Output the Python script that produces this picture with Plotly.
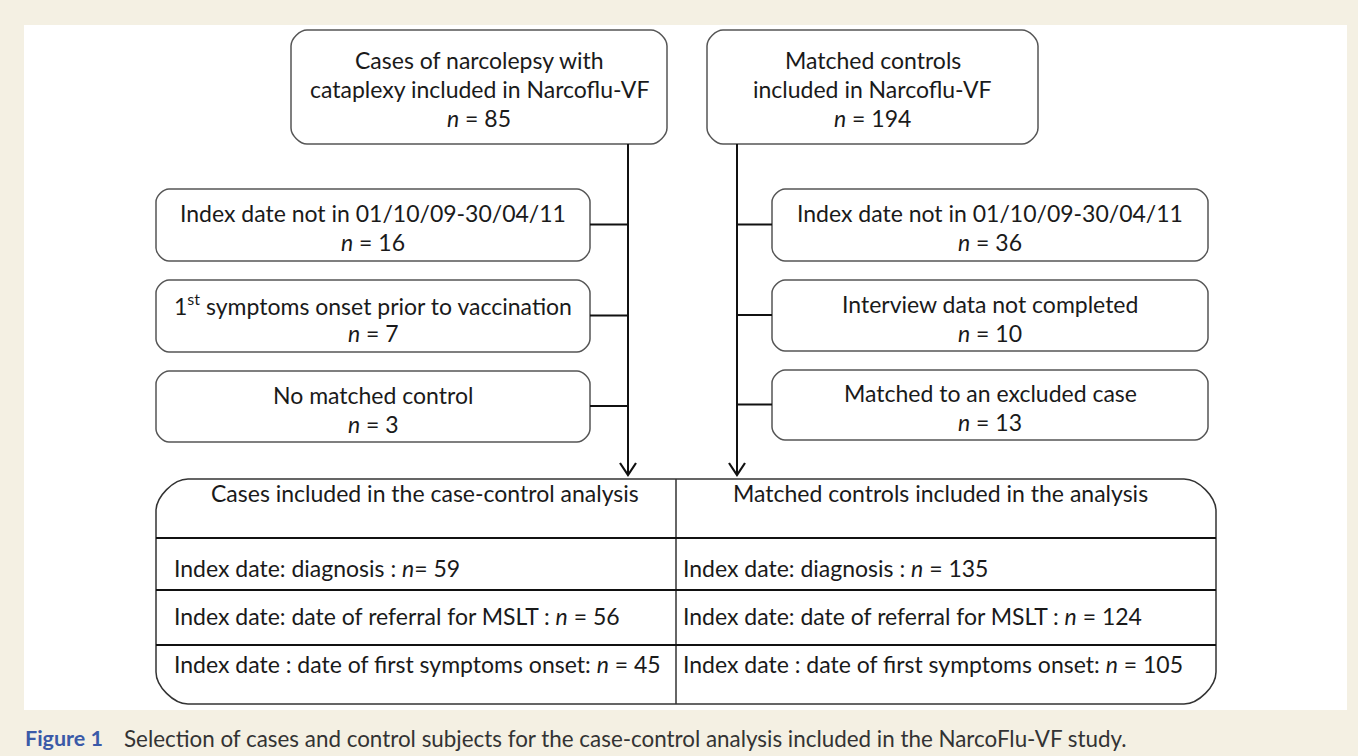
import plotly.graph_objects as go

W, H = 1358, 756

# ---- data ----
top_labels = ["Cases of narcolepsy with<br>cataplexy included in Narcoflu-VF",
              "Matched controls<br>included in Narcoflu-VF"]
top_n = [85, 194]

case_excl_labels = ["Index date not in 01/10/09-30/04/11",
                    "1<sup>st</sup> symptoms onset prior to vaccination",
                    "No matched control"]
case_excl_n = [16, 7, 3]

ctrl_excl_labels = ["Index date not in 01/10/09-30/04/11",
                    "Interview data not completed",
                    "Matched to an excluded case"]
ctrl_excl_n = [36, 10, 13]

table_headers = ["Cases included in the case-control analysis",
                 "Matched controls included in the analysis"]
row_labels_cases = ["Index date: diagnosis : <i>n</i>= ",
                    "Index date: date of referral for MSLT : <i>n</i> = ",
                    "Index date : date of first symptoms onset: <i>n</i> = "]
cases_n = [59, 56, 45]
row_labels_ctrl = ["Index date: diagnosis : <i>n</i> = ",
                   "Index date: date of referral for MSLT : <i>n</i> = ",
                   "Index date : date of first symptoms onset: <i>n</i> = "]
ctrl_n = [135, 124, 105]

caption_bold = "Figure 1"
caption_text = "Selection of cases and control subjects for the case-control analysis included in the NarcoFlu-VF study."

# ---- geometry / style ----
FONT = "Lato"
TXT = "#1a1a1a"
BOX_LINE = "#555555"
LINE = "#111111"
FS = 23


def rrect(x0, y0, x1, y1, r):
    k = 0.45 * r
    return (f"M {x0+r},{y0} L {x1-r},{y0} C {x1-r+k},{y0} {x1},{y0+r-k} {x1},{y0+r} "
            f"L {x1},{y1-r} C {x1},{y1-r+k} {x1-r+k},{y1} {x1-r},{y1} "
            f"L {x0+r},{y1} C {x0+r-k},{y1} {x0},{y1-r+k} {x0},{y1-r} "
            f"L {x0},{y0+r} C {x0},{y0+r-k} {x0+r-k},{y0} {x0+r},{y0} Z")


shapes = []
annotations = []

# background panel
shapes.append(dict(type="rect", x0=24, y0=25, x1=1347, y1=710,
                   fillcolor="white", line=dict(width=0), layer="below"))


def box(x0, y0, x1, y1, r=14):
    shapes.append(dict(type="path", path=rrect(x0, y0, x1, y1, r),
                       line=dict(color=BOX_LINE, width=1.5), fillcolor="white"))


def text(x, y, s, size=FS, xanchor="center", color=TXT):
    annotations.append(dict(x=x, y=y, text=s, showarrow=False, xanchor=xanchor,
                            yanchor="middle", font=dict(family=FONT, size=size, color=color)))


def line(x0, y0, x1, y1, w=2, c=LINE):
    shapes.append(dict(type="line", x0=x0, y0=y0, x1=x1, y1=y1,
                       line=dict(color=c, width=w)))


# top boxes
top_boxes = [(291, 30, 667, 144), (707, 30, 1038, 144)]
for (x0, y0, x1, y1), lab, n in zip(top_boxes, top_labels, top_n):
    box(x0, y0, x1, y1, 16)
    cx = (x0 + x1) / 2
    l1, l2 = lab.split("<br>")
    text(cx, 60, l1)
    text(cx, 89, l2)
    text(cx, 118, f"<i>n</i> = {n}")

# vertical flow lines with arrows
for vx in (628, 737):
    line(vx, 144, vx, 474, w=2)
    shapes.append(dict(type="path", path=f"M {vx-8},{463} L {vx},{475} L {vx+8},{463}",
                       line=dict(color=LINE, width=2.2)))

# exclusion boxes
left_y = [(189, 261), (280, 352), (371, 442)]
right_y = [(189, 261), (280, 351), (370, 440)]
for (y0, y1), lab, n in zip(left_y, case_excl_labels, case_excl_n):
    box(156, y0, 590, y1, 13)
    cy = (y0 + y1) / 2
    text(373, cy - 12, lab)
    text(373, cy + 17, f"<i>n</i> = {n}")
    line(590, cy - 0.5, 628, cy - 0.5, w=2)
for (y0, y1), lab, n in zip(right_y, ctrl_excl_labels, ctrl_excl_n):
    box(772, y0, 1208, y1, 13)
    cy = (y0 + y1) / 2
    text(990, cy - 12, lab)
    text(990, cy + 17, f"<i>n</i> = {n}")
    line(737, cy - 0.5, 772, cy - 0.5, w=2)

# bottom table
tx0, ty0, tx1, ty1 = 156, 479, 1216, 704
shapes.append(dict(type="path", path=rrect(tx0, ty0, tx1, ty1, 32),
                   line=dict(color="#333333", width=1.5), fillcolor="rgba(0,0,0,0)"))
line(676, ty0, 676, ty1, w=1.5, c="#333333")
for ry in (538, 590, 645):
    line(tx0, ry, tx1, ry, w=2, c=LINE)

text(425, 493, table_headers[0])
text(940, 493, table_headers[1])
row_y = [568, 616, 664]
for y, lab, n in zip(row_y, row_labels_cases, cases_n):
    text(172, y, f"{lab}{n}", xanchor="left")
for y, lab, n in zip(row_y, row_labels_ctrl, ctrl_n):
    text(681, y, f"{lab}{n}", xanchor="left")

# caption
annotations.append(dict(x=23, y=738, xanchor="left", yanchor="middle", showarrow=False,
                        text=f"<b>{caption_bold}</b>",
                        font=dict(family=FONT, size=21.5, color="#3a5aa8")))
annotations.append(dict(x=122, y=738, xanchor="left", yanchor="middle", showarrow=False,
                        text=caption_text,
                        font=dict(family=FONT, size=22.4, color="#333333")))

fig = go.Figure()
fig.update_layout(
    width=W, height=H, margin=dict(l=0, r=0, t=0, b=0),
    paper_bgcolor="#f4f0e3", plot_bgcolor="#f4f0e3",
    xaxis=dict(range=[0, W], visible=False, fixedrange=True),
    yaxis=dict(range=[H, 0], visible=False, fixedrange=True),
    shapes=shapes, annotations=annotations, showlegend=False,
)
fig.write_html("out.html", config={"displayModeBar": False})

# remove default page margin so the figure sits at the window's top-left corner
with open("out.html", "r", encoding="utf-8") as f:
    html = f.read()
html = html.replace("<head>", "<head><style>html,body{margin:0;padding:0;overflow:hidden;}</style>", 1)
with open("out.html", "w", encoding="utf-8") as f:
    f.write(html)
